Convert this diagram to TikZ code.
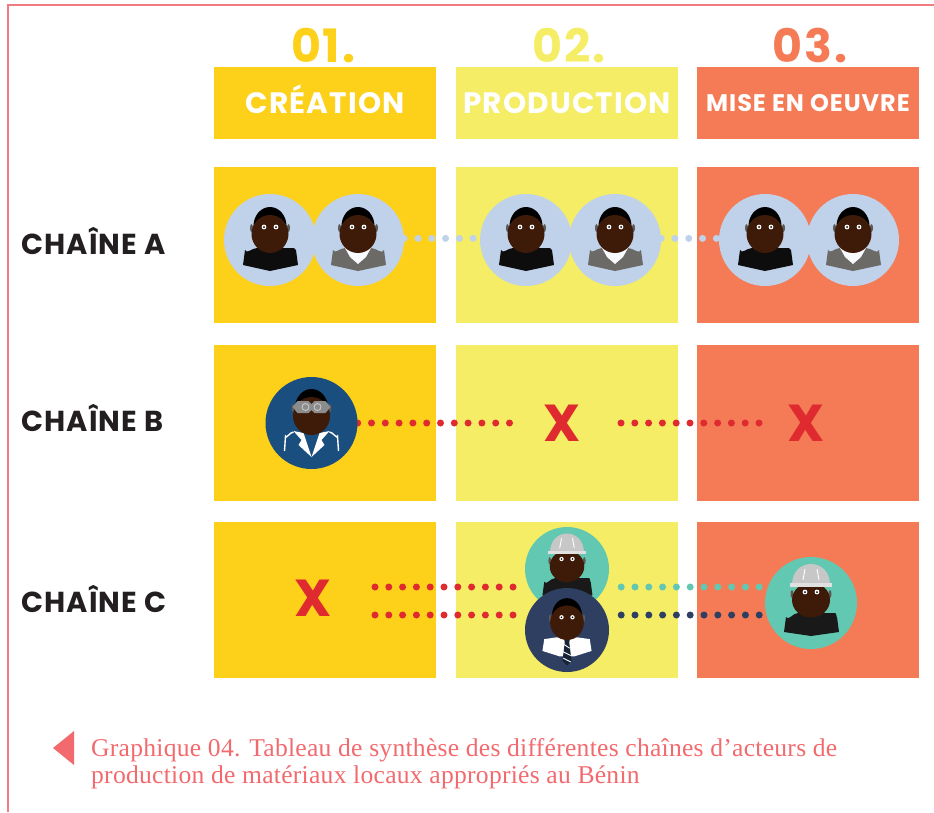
\documentclass[tikz,border=0pt]{standalone}
\usepackage{fontspec}
\setmainfont{Poppins}[LetterSpace=4]
\newfontfamily\capfont{Liberation Serif}[LetterSpace=1]
\usetikzlibrary{positioning,backgrounds}

\definecolor{cyellow}{HTML}{FDD01A}
\definecolor{cpale}{HTML}{F4ED65}
\definecolor{corange}{HTML}{F47B55}
\definecolor{cframe}{HTML}{F07B80}
\definecolor{ccaption}{HTML}{F26A6E}
\definecolor{cink}{HTML}{231F20}
\definecolor{cred}{HTML}{DF2A30}
\definecolor{clight}{HTML}{C0D1EA}
\definecolor{cblue}{HTML}{1A4E7E}
\definecolor{cnavy}{HTML}{2E3F62}
\definecolor{cteal}{HTML}{63C8B1}
\definecolor{cskin}{HTML}{3D1B08}
\definecolor{cgrey}{HTML}{6B6A66}

\tikzset{
  panel/.style={fill=#1, minimum width=222pt, minimum height=156pt, inner sep=0pt},
  headbox/.style={fill=#1, minimum width=222pt, minimum height=72pt, inner sep=0pt,
    text=white, text height=21pt, text depth=-3pt, font=\bfseries\fontsize{29.5}{30}\selectfont},
  headnum/.style={text=#1, inner sep=0pt, text height=33pt, text depth=0pt,
    font=\bfseries\fontsize{46}{46}\selectfont},
  rowlabel/.style={anchor=west, inner sep=0pt, text=cink, text height=20pt, text depth=0pt,
    font=\bfseries\fontsize{28.9}{29}\selectfont},
  crossmark/.style={text=cred, inner sep=0pt, font=\bfseries\fontsize{52}{52}\selectfont},
  avatar/.style={circle, fill=#1, minimum size=92pt, inner sep=0pt},
  smallavatar/.style={circle, fill=#1, minimum size=84pt, inner sep=0pt},
  dotline/.style={draw=#1, line width=7pt, line cap=round, dash pattern=on 0pt off 13.8pt},
}

\newcommand{\drawhead}[2]{
  \fill[black] (0,#1-8) ellipse (16.5 and 19);
  \fill[black!15!cgrey] (-18.5,#2+1) ellipse (1.5 and 4) (18.5,#2+1) ellipse (1.5 and 4);
  \fill[cskin] (0,#1) ellipse (18.5 and 19);
  \fill[white] (-6,#2) circle (2.4) (6,#2) circle (2.4);
  \fill[black] (-6,#2) circle (1) (6,#2) circle (1);
}
\newcommand{\blackshirt}[1]{\begin{scope}[shift={(#1.center)}]
  \fill[black!95] (-27,25) -- (-25,10) to[out=-70,in=180] (-13,8) to[out=20,in=160] (14,8)
    -- (24,8) to[out=0,in=-110] (26,10) -- (28,25) -- (0,31) -- cycle;
  \drawhead{-6}{-13}
\end{scope}}
\newcommand{\greyshirt}[1]{\begin{scope}[shift={(#1.center)}]
  \fill[cgrey] (-27,25) -- (-25,10) to[out=-70,in=180] (-13,8) -- (13,8)
    to[out=0,in=-110] (26,10) -- (28,25) -- (0,31) -- cycle;
  \fill[white!90!clight] (-13,8) -- (13,8) -- (8,17) -- (0,24) -- (-8,17) -- cycle;
  \drawhead{-6}{-13}
\end{scope}}
\newcommand{\labcoat}[1]{\begin{scope}[shift={(#1.center)}]
  \draw[white, line width=1.4pt] (-27,28) -- (-26,13) to[out=-80,in=180] (-18,9);
  \draw[white, line width=1.4pt] (27,28) -- (26,13) to[out=-100,in=0] (18,9);
  \fill[white] (-18,8) -- (-8,10) -- (0,34) -- (-13,22) -- (-10,17) -- cycle;
  \fill[white] (18,8) -- (8,10) -- (0,34) -- (13,22) -- (10,17) -- cycle;
  \drawhead{-7}{-16}
  \fill[black!45] (-19,-16) -- (-14,-22) -- (-3,-22) -- (0,-19) -- (3,-22) -- (14,-22)
    -- (19,-16) -- (14,-10) -- (3,-10) -- (0,-13) -- (-3,-10) -- (-14,-10) -- cycle;
  \draw[black!20, line width=.8pt] (-6,-16) circle (3.5) (6,-16) circle (3.5);
\end{scope}}
\newcommand{\hardhat}[2][1]{\begin{scope}[shift={(#2.center)}, scale=#1]
  \fill[black!90] (-27,29) -- (-25,14) to[out=-70,in=180] (-13,10) to[out=20,in=160] (14,10)
    -- (24,10) to[out=0,in=-110] (26,14) -- (28,29) -- (0,33) -- cycle;
  \fill[black!15!cgrey] (-19,-9) ellipse (1.5 and 4) (19,-9) ellipse (1.5 and 4);
  \fill[cskin] (0,-3) ellipse (19 and 17.5);
  \fill[black!22] (-19,-18) .. controls (-19,-46) and (19,-46) .. (19,-18) -- cycle;
  \fill[black!12] (-21,-20) rectangle (21,-16);
  \draw[white, line width=.9pt] (-8,-23) -- (-6,-34) (8,-23) -- (6,-34);
  \fill[white] (-6,-11) circle (2.4) (6,-11) circle (2.4);
  \fill[black] (-6,-11) circle (1) (6,-11) circle (1);
\end{scope}}
\newcommand{\whiteshirt}[2][1]{\begin{scope}[shift={(#2.center)}, scale=#1]
  \fill[white] (-27,23) -- (-25,10) -- (-11,8) -- (11,8) -- (25,10) -- (27,23) -- (8,29)
    -- (-8,29) -- cycle;
  \fill[black!45!cnavy] (-3.5,6) -- (3.5,6) -- (2.5,14) -- (5,34) -- (0,39) -- (-5,34) -- (-2.5,14) -- cycle;
  \draw[white, line width=.9pt] (-3,16) -- (3,20) (-4,24) -- (4,28) (-4,31) -- (4,35);
  \drawhead{-8}{-14}
\end{scope}}

\begin{document}
\begin{tikzpicture}[x=1pt, y=-1pt, on grid]
  \useasboundingbox (0,0) rectangle (934,812);
  \draw[cframe, line width=1.2pt] (8,812) -- (8,5) -- (934,5);

  % columns
  \begin{scope}[on background layer]
    \node[headbox=cyellow] (hd1) at (325,103) {CRÉATION};
    \node[headbox=cpale] (hd2) [right=242pt of hd1] {PRODUCTION};
    \node[headbox=corange, text height=17pt, text depth=0pt, font=\bfseries\fontsize{24}{24}\selectfont]
      (hd3) [right=241pt of hd2] {MISE EN OEUVRE};
    \node[panel=cyellow] (a1) at (325,245) {};
    \node[panel=cpale] (a2) [right=242pt of a1] {};
    \node[panel=corange] (a3) [right=241pt of a2] {};
    \node[panel=cyellow] (b1) at (325,423) {};
    \node[panel=cpale] (b2) [right=242pt of b1] {};
    \node[panel=corange] (b3) [right=241pt of b2] {};
    \node[panel=cyellow] (c1) at (325,600) {};
    \node[panel=cpale] (c2) [right=242pt of c1] {};
    \node[panel=corange] (c3) [right=241pt of c2] {};
  \end{scope}

  \node[headnum=cyellow] (num1) at (323,46) {01.};
  \node[headnum=cpale] (num2) at (569,46) {02.};
  \node[headnum=corange] (num3) at (810,46) {03.};

  \node[rowlabel] (laba) at (21,244) {CHAÎNE A};
  \node[rowlabel] (labb) at (21,421) {CHAÎNE B};
  \node[rowlabel] (labc) at (21,602) {CHAÎNE C};

  % chain A
  \node[avatar=clight] (pa1) at (270,240) {};
  \node[avatar=clight] (pa2) [right=88pt of pa1] {};
  \node[avatar=clight] (pa3) at (526,240) {};
  \node[avatar=clight] (pa4) [right=89pt of pa3] {};
  \node[avatar=clight] (pa5) at (765,240) {};
  \node[avatar=clight] (pa6) [right=88pt of pa5] {};
  \blackshirt{pa1}
  \greyshirt{pa2}
  \blackshirt{pa3}
  \greyshirt{pa4}
  \blackshirt{pa5}
  \greyshirt{pa6}

  % chain B
  \node[avatar=cblue] (sci) at (311.5,423) {};
  \labcoat{sci}
  \node[crossmark] (xb1) at (562,423) {X};
  \node[crossmark] (xb2) at (806,423) {X};

  % chain C
  \node[crossmark] (xc) at (313,598) {X};
  \coordinate[above right=11pt and 62pt of xc.center] (xcup);
  \coordinate[below right=17pt and 62pt of xc.center] (xcdown);
  \node[smallavatar=cteal] (hat) at (567,569) {};
  \hardhat[.91]{hat}
  \node[smallavatar=cnavy] (boss) at (567,630) {};
  \whiteshirt[.91]{boss}
  \node[avatar=cteal] (hat2) at (811,603) {};
  \hardhat{hat2}

  \begin{scope}[on background layer]
    \draw[dotline=clight] (pa2.2) -- (pa3.178);
    \draw[dotline=clight] (pa4.2) -- (pa5.178);
    \draw[dotline=cred, shorten >=50pt] (sci.east) -- (xb1.center);
    \draw[dotline=cred, shorten <=59pt, shorten >=45pt] (xb1.center) -- (xb2.center);
    \draw[dotline=cred, shorten >=11pt] (xcup) -- (hat.west |- xcup);
    \draw[dotline=cred, shorten >=11pt] (xcdown) -- (boss.west |- xcdown);
    \draw[dotline=cteal, shorten <=12pt, shorten >=5pt] (hat.east |- xcup) -- (hat2.west |- xcup);
    \draw[dotline=cnavy, shorten <=12pt, shorten >=5pt] (boss.east |- xcdown) -- (hat2.west |- xcdown);
  \end{scope}

  % caption
  \fill[ccaption] (53,748) -- (74,731) -- (74,765) -- cycle;
  \node[anchor=north west, inner sep=0pt, align=left, text=ccaption,
    font=\capfont\fontsize{25.6}{27}\selectfont] (cap) at (91,738)
    {Graphique 04. Tableau de synthèse des différentes chaînes d’acteurs de\\
     production de matériaux locaux appropriés au Bénin};
\end{tikzpicture}
\end{document}
